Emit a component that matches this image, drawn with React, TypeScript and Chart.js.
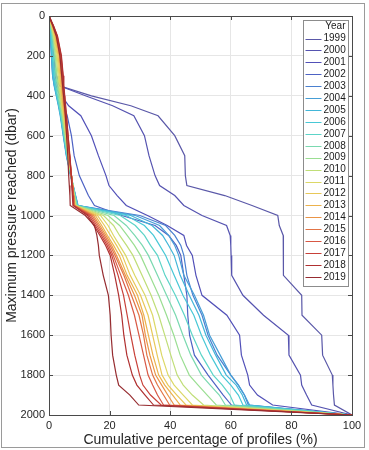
import React, { useEffect, useRef } from 'react';
import { Chart, registerables } from 'chart.js';

Chart.register(...registerables);

const FONT = '"Liberation Sans", Arial, Helvetica, sans-serif';

const YEARS = ['1999', '2000', '2001', '2002', '2003', '2004', '2005', '2006', '2007', '2008', '2009', '2010', '2011', '2012', '2013', '2014', '2015', '2016', '2017', '2018', '2019'];

const PRESSURE = [0, 50, 100, 200, 300, 350, 400, 450, 500, 600, 700, 800, 850, 900, 950, 1000, 1050, 1100, 1150, 1200, 1300, 1400, 1500, 1600, 1700, 1800, 1850, 1900, 1950, 2000];

const X1999 = [0, 0.5, 1, 1.5, 2.5, 3.5, 14, 27, 36, 41.5, 44.8, 45, 45.5, 58, 67, 75.5, 76, 77.3, 77.3, 77.3, 77.5, 83.4, 83.5, 90, 90.3, 93.5, 93.7, 93.9, 94.2, 100];
const X2000 = [0, 0.5, 1, 1.5, 2.5, 3.5, 12, 21, 28, 31.5, 33, 35, 36.5, 41.5, 44.5, 50.5, 58.6, 59.8, 60, 60.1, 60.3, 64, 70.8, 79, 79.2, 83, 83.4, 85, 86.7, 100];
const X2001 = [0, 0.4, 0.8, 1.3, 2, 2.8, 4.2, 6.5, 10.5, 14, 16.3, 18.8, 19.8, 22.5, 25.5, 32.5, 39, 44.5, 45.4, 47.3, 48.5, 50.5, 58.7, 62.9, 63.5, 65.6, 66.2, 68.8, 73.8, 100];
const X2002 = [0, 0.3, 0.6, 1.0, 1.5, 2.3, 3.6, 5.0, 6.0, 7.4, 8.3, 10.0, 11.5, 13.0, 15.0, 24, 35, 39.5, 42, 43.5, 44.5, 45.5, 45.8, 46.4, 48, 52.5, 55, 57.5, 60.2, 100];
const X2003 = [0, 0.3, 0.5, 0.8, 1.2, 1.8, 2.6, 3.3, 3.9, 4.8, 5.8, 7.2, 8.0, 8.8, 9.6, 30, 38.5, 41.5, 43.5, 44.5, 45.5, 47.5, 50.5, 52.5, 55.5, 60, 62.5, 64.5, 65.8, 100];
const X2004 = [0, 0.3, 0.5, 0.8, 1.2, 1.7, 2.4, 3.1, 3.7, 4.7, 5.7, 7.1, 7.9, 8.7, 9.5, 28.5, 36.5, 39.5, 41.5, 42.8, 44.5, 48, 51, 53, 56.5, 60, 62.5, 64.5, 66.2, 100];
const X2005 = [0, 0.3, 0.6, 0.9, 1.3, 1.8, 2.5, 3.2, 3.8, 4.8, 5.8, 7.2, 7.9, 8.7, 9.5, 27, 34, 37.5, 39.5, 41.3, 43.3, 46.3, 49.5, 51.8, 55, 58.5, 61.8, 63.8, 65.2, 100];
const X2006 = [0, 0.4, 0.7, 1.1, 1.5, 2.0, 2.6, 3.3, 3.9, 4.9, 5.9, 7.2, 7.9, 8.6, 9.4, 25.5, 31.5, 34.5, 36.5, 38.5, 41.3, 44.2, 47.8, 50.3, 53.3, 57, 60, 62.5, 64, 100];
const X2007 = [0, 0.5, 0.9, 1.4, 1.9, 2.3, 2.8, 3.4, 4.0, 5.0, 6.0, 7.3, 8.0, 8.6, 9.3, 23.5, 28.5, 31.5, 33.5, 35.8, 38.3, 41.7, 44.7, 47.3, 50.3, 54.2, 57.2, 59.7, 61.2, 100];
const X2008 = [0, 0.6, 1.1, 1.8, 2.3, 2.7, 3.1, 3.6, 4.2, 5.1, 6.1, 7.3, 7.9, 8.5, 9.1, 21.5, 25.5, 28.3, 30.8, 32.8, 35.8, 38.8, 41.8, 44.2, 46.8, 50.3, 53.2, 56.2, 58.2, 100];
const X2009 = [0, 0.7, 1.3, 2.1, 2.6, 3.0, 3.4, 3.9, 4.4, 5.3, 6.2, 7.3, 7.9, 8.4, 9.0, 19.5, 23.3, 25.8, 28.2, 30.2, 33.2, 36.2, 38.8, 41.2, 43.3, 46.3, 49.2, 52.2, 55.2, 100];
const X2010 = [0, 0.8, 1.5, 2.4, 3.0, 3.3, 3.7, 4.1, 4.6, 5.5, 6.3, 7.4, 7.9, 8.3, 8.8, 18, 21.3, 23.3, 25.6, 27.7, 30.7, 33.7, 36.2, 38.2, 40.2, 42.3, 44.3, 47.3, 51, 100];
const X2011 = [0, 0.9, 1.7, 2.7, 3.3, 3.6, 3.9, 4.3, 4.8, 5.6, 6.4, 7.4, 7.8, 8.2, 8.7, 17, 19.5, 21.3, 23.3, 25.3, 28.3, 31.7, 34.2, 35.7, 37.2, 39.3, 41.3, 44.3, 47.3, 100];
const X2012 = [0, 1.0, 1.9, 3.0, 3.6, 3.9, 4.2, 4.5, 5.0, 5.8, 6.5, 7.4, 7.8, 8.2, 8.6, 16, 18.3, 20.3, 22.3, 24.2, 26.8, 30.2, 32.7, 34.2, 35.7, 37.3, 39.3, 42.2, 45.2, 100];
const X2013 = [0, 1.1, 2.1, 3.3, 3.9, 4.1, 4.4, 4.7, 5.1, 5.9, 6.6, 7.4, 7.8, 8.1, 8.5, 15.3, 17.4, 19.3, 21.3, 23.2, 25.8, 29.2, 31.3, 32.8, 34.3, 36.2, 38.2, 40.8, 43.3, 100];
const X2014 = [0, 1.2, 2.3, 3.5, 4.1, 4.3, 4.6, 4.9, 5.3, 6.0, 6.7, 7.4, 7.8, 8.1, 8.4, 14.7, 16.8, 18.8, 20.7, 22.3, 25.2, 28.2, 30.7, 31.8, 33.3, 35.2, 37.2, 39.2, 41.3, 100];
const X2015 = [0, 1.3, 2.5, 3.7, 4.3, 4.5, 4.8, 5.1, 5.4, 6.1, 6.8, 7.4, 7.7, 8.0, 8.3, 14.2, 16.3, 18.3, 20.2, 21.8, 24.7, 27.2, 29.7, 31.2, 32.3, 34.2, 35.8, 37.8, 39.8, 100];
const X2016 = [0, 1.4, 2.6, 3.9, 4.5, 4.7, 5.0, 5.2, 5.6, 6.2, 6.8, 7.4, 7.7, 8.0, 8.2, 13.7, 15.8, 17.8, 19.7, 21.2, 23.7, 26.2, 28.2, 29.7, 31.2, 32.7, 34.2, 35.8, 37.8, 100];
const X2017 = [0, 1.5, 2.7, 4.0, 4.6, 4.8, 5.1, 5.4, 5.7, 6.3, 6.9, 7.4, 7.6, 7.9, 8.1, 13.2, 15.3, 17.3, 19.2, 20.7, 22.8, 24.6, 25.8, 27, 28.3, 29.9, 31, 33.5, 37, 100];
const X2018 = [0, 1.5, 2.8, 4.1, 4.7, 4.9, 5.2, 5.5, 5.8, 6.3, 6.8, 7.3, 7.5, 7.7, 7.9, 12.7, 14.8, 16.8, 18.7, 20.2, 21.7, 23, 24, 24.7, 25.7, 27.5, 29, 31.7, 34.5, 100];
const X2019 = [0, 1.3, 2.4, 3.6, 4.2, 4.5, 4.8, 5.1, 5.4, 5.8, 6.2, 6.5, 6.7, 6.9, 7.0, 12, 15, 15.8, 16.3, 16.6, 17.9, 19.6, 20.2, 20.5, 21, 22.2, 23, 26.7, 29.6, 100];

const SERIES = [X1999, X2000, X2001, X2002, X2003, X2004, X2005, X2006, X2007, X2008, X2009, X2010, X2011, X2012, X2013, X2014, X2015, X2016, X2017, X2018, X2019];

const COLORS = ['#5a58a8', '#5553b0', '#5150b8', '#4d62c4', '#4a80d0', '#469ed6', '#42b6d8', '#48c8d6', '#5cd4c8', '#7ad9b0', '#9ade92', '#c0de78', '#dcd866', '#e8c858', '#ecb24c', '#ea9446', '#e27446', '#d85844', '#c84038', '#b03030', '#962c30'];

const X_TITLE = 'Cumulative percentage of profiles (%)';
const Y_TITLE = 'Maximum pressure reached (dbar)';
const LEGEND_TITLE = 'Year';

const decorPlugin = {
  id: 'decor',
  beforeDraw(chart: any) {
    const { ctx } = chart;
    ctx.save();
    ctx.fillStyle = '#ffffff';
    ctx.fillRect(0, 0, chart.width, chart.height);
    ctx.strokeStyle = '#9a9a9a';
    ctx.lineWidth = 1;
    ctx.strokeRect(1.5, 3.5, 363, 444);
    ctx.restore();
  },
  afterDatasetsDraw(chart: any) {
    const { ctx, chartArea: a, scales } = chart;
    ctx.save();
    // frame
    ctx.strokeStyle = '#4a4a4a';
    ctx.lineWidth = 1;
    ctx.strokeRect(Math.round(a.left) + 0.5, Math.round(a.top) + 0.5, Math.round(a.right - a.left), Math.round(a.bottom - a.top));
    // inward ticks
    const tl = 4;
    ctx.beginPath();
    scales.x.ticks.forEach((t: any) => {
      const px = Math.round(scales.x.getPixelForValue(t.value)) + 0.5;
      ctx.moveTo(px, a.bottom); ctx.lineTo(px, a.bottom - tl);
      ctx.moveTo(px, a.top); ctx.lineTo(px, a.top + tl);
    });
    scales.y.ticks.forEach((t: any) => {
      const py = Math.round(scales.y.getPixelForValue(t.value)) + 0.5;
      ctx.moveTo(a.left, py); ctx.lineTo(a.left + tl, py);
      ctx.moveTo(a.right, py); ctx.lineTo(a.right - tl, py);
    });
    ctx.stroke();

    // legend
    const lx = a.right - 48.5;
    const ly = a.top + 4.5;
    const lw = 45;
    const lh = 266;
    ctx.fillStyle = '#ffffff';
    ctx.fillRect(lx, ly, lw, lh);
    ctx.strokeStyle = '#8c8c8c';
    ctx.strokeRect(lx, ly, lw, lh);
    ctx.font = `10px ${FONT}`;
    ctx.textBaseline = 'middle';
    ctx.textAlign = 'right';
    ctx.fillStyle = '#1a1a1a';
    ctx.fillText(LEGEND_TITLE, lx + lw - 3, ly + 6);
    ctx.textAlign = 'left';
    chart.data.datasets.forEach((ds: any, i: number) => {
      const y = ly + 18 + i * 11.92;
      ctx.strokeStyle = ds.borderColor;
      ctx.lineWidth = 1;
      ctx.beginPath();
      ctx.moveTo(lx + 2, Math.round(y) + 0.5);
      ctx.lineTo(lx + 18, Math.round(y) + 0.5);
      ctx.stroke();
      ctx.fillStyle = '#1a1a1a';
      ctx.fillText(ds.label, lx + 20, y);
    });
    ctx.restore();
  },
};

export default function App() {
  const ref = useRef<HTMLCanvasElement>(null);

  useEffect(() => {
    if (!ref.current) return;
    const datasets = SERIES.map((xs, i) => ({
      label: YEARS[i],
      data: PRESSURE.map((p, j) => ({ x: xs[j], y: p })),
      borderColor: COLORS[i],
      backgroundColor: COLORS[i],
      borderWidth: 1.2,
      pointRadius: 0,
      showLine: true,
      fill: false,
      tension: 0,
      order: SERIES.length - i,
    }));

    const chart = new Chart(ref.current, {
      type: 'scatter',
      data: { datasets },
      options: {
        animation: false,
        responsive: false,
        events: [],
        layout: { padding: { top: 16, right: 17, left: 0, bottom: 0 } },
        plugins: {
          legend: { display: false },
          tooltip: { enabled: false },
        },
        scales: {
          x: {
            type: 'linear',
            min: 0,
            max: 100,
            ticks: { stepSize: 20, padding: 4, maxRotation: 0, color: '#262626', font: { family: FONT, size: 11 }, callback: (v: any) => String(v) },
            grid: { color: '#e6e6e6', drawTicks: false },
            border: { display: false },
            title: { display: true, text: X_TITLE, color: '#262626', font: { family: FONT, size: 14 }, padding: { top: 0, bottom: 1 } },
            afterFit(s: any) { s.height = 35; },
          },
          y: {
            type: 'linear',
            reverse: true,
            min: 0,
            max: 2000,
            ticks: { stepSize: 200, padding: 4, color: '#262626', font: { family: FONT, size: 11 }, callback: (v: any) => String(v) },
            grid: { color: '#e6e6e6', drawTicks: false },
            border: { display: false },
            title: { display: true, text: Y_TITLE, color: '#262626', font: { family: FONT, size: 14 }, padding: { top: 4, bottom: 0 } },
            afterFit(s: any) { s.width = 49; },
          },
        },
      },
      plugins: [decorPlugin],
    } as any);

    return () => chart.destroy();
  }, []);

  return (
    <div style={{ position: 'fixed', left: 0, top: 0, width: 369, height: 450, background: '#fff' }}>
      <canvas ref={ref} width={369} height={450} style={{ display: 'block', width: 369, height: 450 }} />
    </div>
  );
}
